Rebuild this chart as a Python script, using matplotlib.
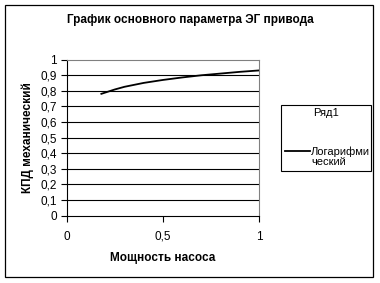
import numpy as np
import matplotlib
matplotlib.use('Agg')
import matplotlib.pyplot as plt
from matplotlib.patches import Rectangle
from matplotlib.lines import Line2D
from matplotlib.ticker import FuncFormatter

plt.rcParams['font.family'] = ['Liberation Sans', 'DejaVu Sans']

# values
power = [0.18, 0.25, 0.3, 0.4, 0.5, 0.6, 0.7, 0.8, 0.9, 1.0]
efficiency = [0.78, 0.808, 0.825, 0.85, 0.869, 0.885, 0.899, 0.91, 0.921, 0.93]
x_ticks = [0, 0.5, 1]
y_ticks = [0, 0.1, 0.2, 0.3, 0.4, 0.5, 0.6, 0.7, 0.8, 0.9, 1]

W, H = 380, 283
fig = plt.figure(figsize=(W / 100, H / 100), dpi=100)

def fx(px):
    return px / W

def fy(py):
    return 1 - py / H

# outer chart border
fig.patches.append(Rectangle((fx(5), fy(277)), fx(368), (272) / H, transform=fig.transFigure,
                             fill=False, edgecolor='black', linewidth=0.9))

ax = fig.add_axes([fx(66.7), fy(215.5), fx(192.6), 156 / H])
ax.set_xlim(0, 1)
ax.set_ylim(0, 1)

for yv in y_ticks[1:-1]:
    ax.axhline(yv, color='black', linewidth=0.8, zorder=1)

ax.plot(power, efficiency, color='black', linewidth=1.3, zorder=3)

ax.spines['top'].set_color('#808080')
ax.spines['right'].set_color('#808080')
for s in ['left', 'bottom']:
    ax.spines[s].set_linewidth(0.8)

comma = FuncFormatter(lambda v, p: ('%g' % v).replace('.', ','))
ax.set_xticks(x_ticks)
ax.set_yticks(y_ticks)
ax.xaxis.set_major_formatter(comma)
ax.yaxis.set_major_formatter(comma)
ax.tick_params(axis='x', direction='out', length=4, width=0.8, pad=7, labelsize=8.5)
ax.tick_params(axis='y', direction='out', length=4, width=0.8, pad=3, labelsize=8.5)

ax.set_xlabel('Мощность насоса', fontsize=8.5, fontweight='bold', labelpad=7)
ax.set_ylabel('КПД механический', fontsize=8.5, fontweight='bold', labelpad=5)

fig.text(fx(190), fy(20), 'График основного параметра ЭГ привода',
         ha='center', va='center', fontsize=8.5, fontweight='bold')

# legend
fig.patches.append(Rectangle((fx(281), fy(171)), fx(90), 66 / H, transform=fig.transFigure,
                             fill=False, edgecolor='black', linewidth=0.8))
fig.text(fx(313), fy(113), 'Ряд1', ha='left', va='center', fontsize=8)
fig.lines.append(Line2D([fx(285), fx(310)], [fy(151), fy(151)], transform=fig.transFigure,
                        color='black', linewidth=1.3))
fig.text(fx(311), fy(156.5), 'Логарифми\nческий', ha='left', va='center', fontsize=8,
         linespacing=1.0)

fig.savefig('out.png', dpi=100)
